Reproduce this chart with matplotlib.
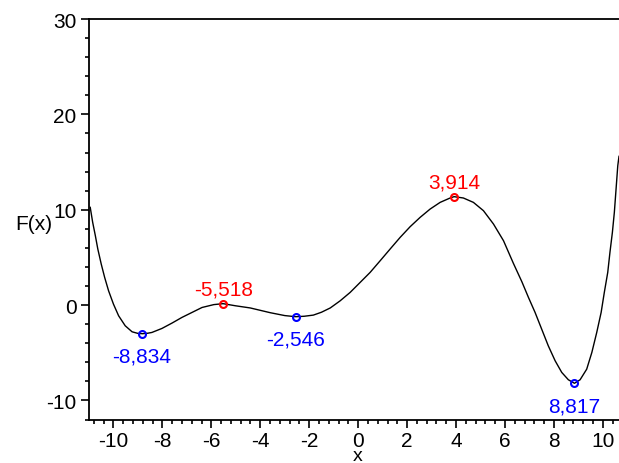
import matplotlib
matplotlib.use('Agg')
import matplotlib.pyplot as plt
from matplotlib.ticker import MultipleLocator

plt.rcParams['font.family'] = ['Liberation Sans', 'DejaVu Sans']
plt.rcParams['axes.unicode_minus'] = False

# curve points
xs = [-10.95, -10.85, -10.74, -10.64, -10.50, -10.36, -10.20, -10.0, -9.79, -9.52,
      -9.24, -9.0, -8.81, -8.6, -8.43, -8.02, -7.61, -7.20, -6.79, -6.38,
      -5.9, -5.52, -5.02, -4.41, -4.0, -3.59, -3.0, -2.55, -2.2, -1.83,
      -1.5, -1.14, -0.735, -0.327, 0.082, 0.49, 0.899, 1.307, 1.716, 2.124,
      2.533, 2.941, 3.35, 3.758, 3.92, 4.30, 4.71, 5.12, 5.53, 5.94,
      6.34, 6.69, 6.96, 7.23, 7.50, 7.77, 8.05, 8.32, 8.59, 8.84,
      9.07, 9.34, 9.55, 9.75, 9.93, 10.06, 10.20, 10.29, 10.39, 10.47,
      10.54, 10.61, 10.66]
ys = [10.25, 8.68, 7.27, 5.88, 4.30, 2.90, 1.50, 0.10, -1.12, -2.17,
      -2.80, -2.97, -3.0, -2.95, -2.87, -2.45, -1.89, -1.29, -0.77, -0.25,
      0.05, 0.15, -0.07, -0.3, -0.55, -0.8, -1.1, -1.22, -1.17, -1.05,
      -0.75, -0.3, 0.45, 1.33, 2.38, 3.43, 4.65, 5.88, 7.10, 8.22,
      9.20, 10.07, 10.77, 11.23, 11.37, 11.23, 10.77, 9.9, 8.5, 6.75,
      4.4, 2.45, 0.8, -0.77, -2.52, -4.27, -5.84, -7.06, -7.83, -8.2,
      -7.83, -6.72, -4.97, -2.87, -0.77, 1.33, 3.43, 5.53, 7.63, 9.73,
      12.17, 14.62, 15.6]

# extrema
ext_x = [-8.834, -5.518, -2.546, 3.914, 8.817]
ext_y = [-2.98, 0.15, -1.22, 11.37, -8.18]
ext_lbl = ['-8,834', '-5,518', '-2,546', '3,914', '8,817']
ext_kind = ['min', 'max', 'min', 'max', 'min']

fig = plt.figure(figsize=(6.19, 4.64), dpi=100)
ax = fig.add_axes([89 / 619, 1 - 421 / 464, 1 - 89 / 619, (421 - 20) / 464])

ax.plot(xs, ys, color='black', lw=1.0)

for x, y, lbl, kind in zip(ext_x, ext_y, ext_lbl, ext_kind):
    col = '#ff0000' if kind == 'max' else '#0000ff'
    ax.plot([x], [y], 'o', ms=5, mfc='none', mec=col, mew=1.5)
    dy = 9 if kind == 'max' else -28
    ax.annotate(lbl, (x, y), xytext=(0, dy), textcoords='offset pixels',
                ha='center', va='baseline', color=col, fontsize=15)

ax.set_xlim(-11, 10.66)
ax.set_ylim(-12.05, 30)
ax.set_xticks([-10, -8, -6, -4, -2, 0, 2, 4, 6, 8, 10])
ax.set_yticks([-10, 0, 10, 20, 30])
ax.xaxis.set_minor_locator(MultipleLocator(0.4))
ax.yaxis.set_minor_locator(MultipleLocator(2))
ax.tick_params(which='major', length=6, width=1.2, labelsize=15, pad=3, colors='black')
ax.tick_params(axis='x', which='major', pad=2)
ax.tick_params(which='minor', length=3, width=1.2)

ax.spines['right'].set_visible(False)
for s in ['left', 'bottom', 'top']:
    ax.spines[s].set_linewidth(1.3)

fig.text(15 / 619, 1 - 230 / 464, 'F(x)', ha='left', va='baseline', fontsize=15)
fig.text(358 / 619, 1 - 461 / 464, 'x', ha='center', va='baseline', fontsize=14)

fig.savefig('out.png', dpi=100)
